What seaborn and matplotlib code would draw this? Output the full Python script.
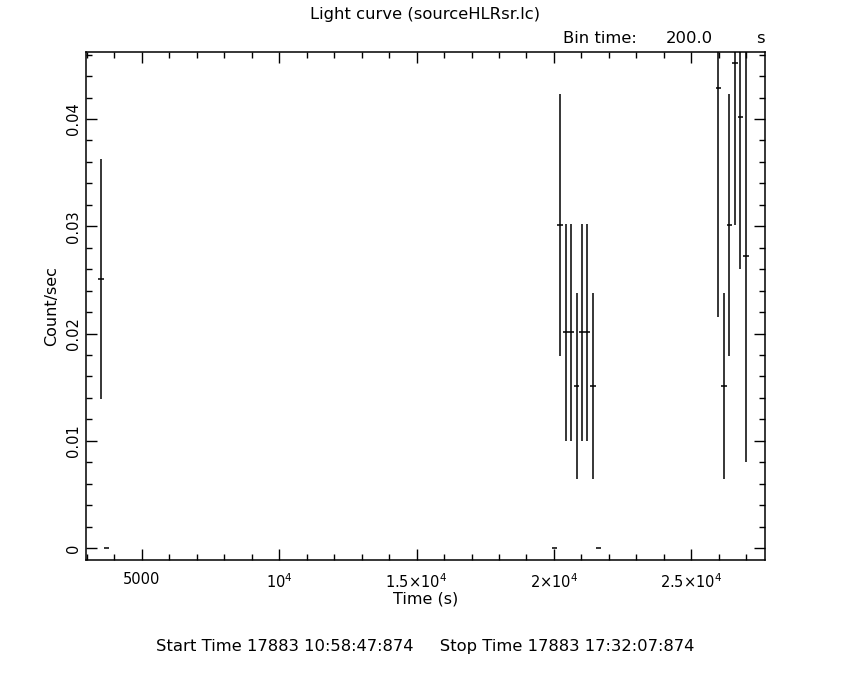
# Libraries
import numpy as np
import pandas as pd
import seaborn as sns
import matplotlib.pyplot as plt
from matplotlib.ticker import MultipleLocator, FixedLocator, FixedFormatter

# Light curve data, bin time 200 s
time = [3520, 3720,
        20020, 20220, 20420, 20620, 20820, 21020, 21220, 21420, 21620,
        25980, 26180, 26380, 26580, 26780, 26980]
rate = [0.0251, 0.0,
        0.0, 0.0301, 0.0201, 0.0201, 0.0151, 0.0201, 0.0201, 0.0151, 0.0,
        0.0429, 0.0151, 0.0301, 0.0452, 0.0402, 0.0272]
rate_err = [0.0112, 0.0,
            0.0, 0.0122, 0.0101, 0.0101, 0.0087, 0.0101, 0.0101, 0.0087, 0.0,
            0.0214, 0.0087, 0.0122, 0.0151, 0.0142, 0.0192]
half_bin = 100

x_ticks = [5000, 10000, 15000, 20000, 25000]
x_labels = ["5000", r"$10^4$", r"$1.5{\times}10^4$", r"$2{\times}10^4$", r"$2.5{\times}10^4$"]
y_ticks = [0, 0.01, 0.02, 0.03, 0.04]
y_labels = ["0", "0.01", "0.02", "0.03", "0.04"]

df = pd.DataFrame({"Time": time, "Rate": rate, "Err": rate_err})

sns.set_style("white")
plt.rcParams['font.family'] = ['DejaVu Sans']
plt.rcParams['mathtext.fontset'] = 'dejavusans'
plt.rcParams['text.color'] = 'black'
plt.rcParams['axes.labelcolor'] = 'black'
plt.rcParams['xtick.color'] = 'black'
plt.rcParams['ytick.color'] = 'black'

fig = plt.figure(figsize=(8.5, 6.8), dpi=100)
ax = fig.add_axes([0.1012, 0.1765, 0.7988, 0.747])

ax.errorbar(df["Time"], df["Rate"], xerr=half_bin, yerr=df["Err"],
            fmt="none", ecolor="black", elinewidth=1.1, capsize=0)

ax.set_xlim(2970, 27680)
ax.set_ylim(-0.00112, 0.04625)

for s in ax.spines.values():
    s.set_color("black")
    s.set_linewidth(1.1)

ax.xaxis.set_major_locator(FixedLocator(x_ticks))
ax.xaxis.set_major_formatter(FixedFormatter(x_labels))
ax.xaxis.set_minor_locator(MultipleLocator(1000))
ax.yaxis.set_major_locator(FixedLocator(y_ticks))
ax.yaxis.set_major_formatter(FixedFormatter(y_labels))
ax.yaxis.set_minor_locator(MultipleLocator(0.002))

ax.tick_params(which="both", direction="in", top=True, right=True,
               bottom=True, left=True, color="black", labelcolor="black",
               width=1.0, labelsize=10.5)
ax.tick_params(which="major", length=8)
ax.tick_params(which="minor", length=4)
ax.tick_params(axis="x", pad=9)
for lab in ax.get_yticklabels():
    lab.set_rotation(90)
    lab.set_va("center")

ax.set_xlabel("Time (s)", fontsize=11.5, labelpad=0, color="black")
ax.set_ylabel("Count/sec", fontsize=11.5, labelpad=5, color="black")

fig.text(0.5, 0.978, "Light curve (sourceHLRsr.lc)", ha="center", va="center", fontsize=11.8)
fig.text(0.662, 0.944, "Bin time:", ha="left", va="center", fontsize=11.8)
fig.text(0.783, 0.944, "200.0", ha="left", va="center", fontsize=11.8)
fig.text(0.890, 0.944, "s", ha="left", va="center", fontsize=11.8)
fig.text(0.5, 0.050, "Start Time 17883 10:58:47:874     Stop Time 17883 17:32:07:874",
         ha="center", va="center", fontsize=11.8)

plt.savefig("out.png", dpi=100, facecolor="white")
